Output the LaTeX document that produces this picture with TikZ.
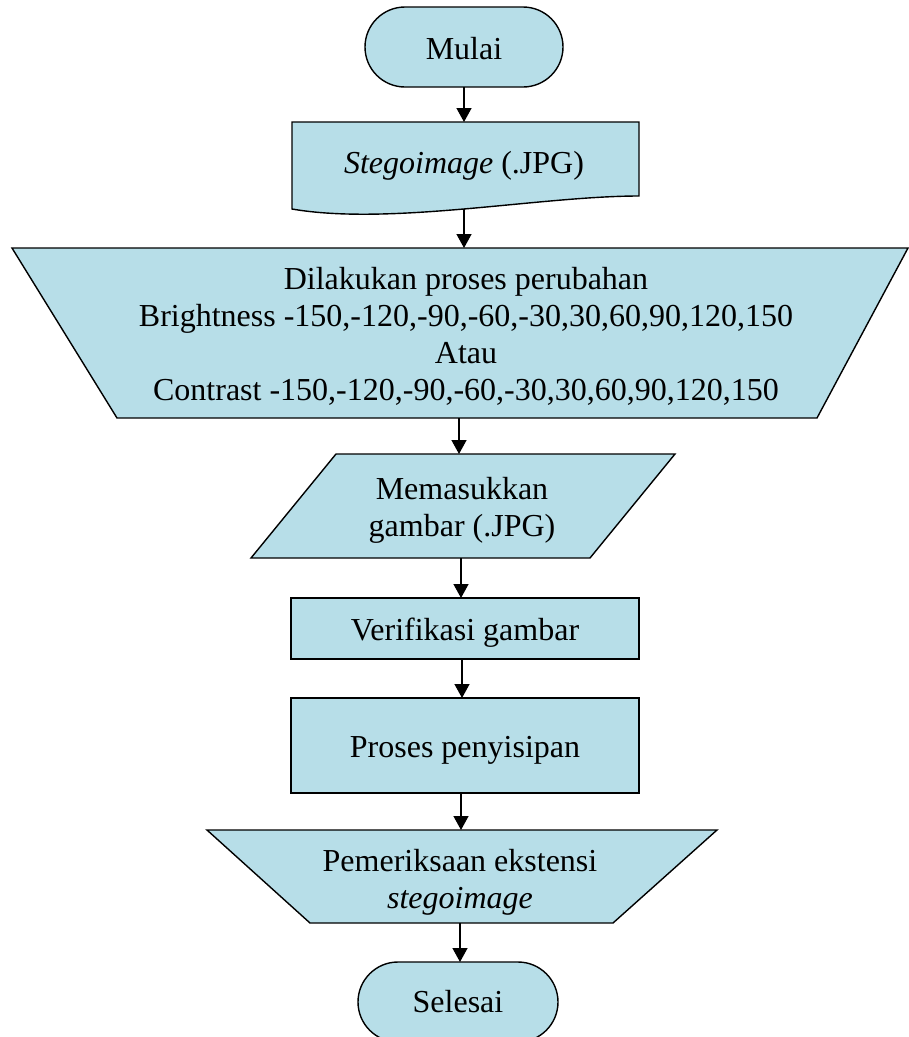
\documentclass[tikz,border=0pt]{standalone}
\usepackage{fontspec}
\setmainfont{Liberation Serif}
\usetikzlibrary{arrows.meta}
\definecolor{boxfill}{RGB}{183,222,232}
% centred stack of lines whose baseline is the first line's baseline
\newcommand{\stacklines}[1]{\begin{tabular}[t]{@{}c@{}}#1\end{tabular}}
\begin{document}
\begin{tikzpicture}[x=1pt,y=-1pt,
  shapebox/.style={draw=black,fill=boxfill,line width=1.4pt,line join=miter},
  txt/.style={font=\fontsize{32}{37}\selectfont,inner sep=0pt,anchor=base},
  arr/.style={line width=1.4pt,-{Triangle[width=15pt,length=14pt]}}]
\useasboundingbox (0,0) rectangle (909,1037);
\clip (0,0) rectangle (909,1037);

% start terminator
\draw[shapebox,rounded corners=40pt] (365,7) rectangle (563,87);
\node[txt] (mulai) at (464,59) {Mulai};
\coordinate (mulai-s) at (464,87);

% document input
\draw[shapebox] (292,122) -- (639,122) -- (639,196)
  .. controls (540,196) and (390,226) .. (292,209) -- cycle;
\node[txt] (doc) at (464,173) {\textit{Stegoimage} (.JPG)};
\coordinate (doc-n) at (464,122);
\coordinate (doc-s) at (464,209);

% manual operation
\draw[shapebox] (12,248) -- (908,248) -- (817,418) -- (117,418) -- cycle;
\node[txt] (manual) at (466,289) {\stacklines{Dilakukan proses perubahan\\
  Brightness -150,-120,-90,-60,-30,30,60,90,120,150\\
  Atau\\
  Contrast -150,-120,-90,-60,-30,30,60,90,120,150}};
\coordinate (man-n) at (464,248);
\coordinate (man-s) at (459,418);

% data input
\draw[shapebox] (336,454) -- (675,454) -- (590,558) -- (251,558) -- cycle;
\node[txt] (input) at (462,499) {\stacklines{Memasukkan\\gambar (.JPG)}};
\coordinate (in-n) at (459,454);
\coordinate (in-s) at (461,558);

% verification
\draw[shapebox] (291,598) rectangle (639,659);
\node[txt] (verif) at (465,640) {Verifikasi gambar};
\coordinate (ver-n) at (461,598);
\coordinate (ver-s) at (462,659);

% embedding
\draw[shapebox] (291,698) rectangle (639,793);
\node[txt] (proses) at (465,757) {Proses penyisipan};
\coordinate (pro-n) at (462,698);
\coordinate (pro-s) at (461,793);

% extension check
\draw[shapebox] (207,830) -- (717,830) -- (613,923) -- (310,923) -- cycle;
\node[txt] (cek) at (460,871) {\stacklines{Pemeriksaan ekstensi\\\textit{stegoimage}}};
\coordinate (cek-n) at (461,830);
\coordinate (cek-s) at (460,923);

% end terminator
\draw[shapebox,rounded corners=40pt] (358,962) rectangle (558,1042);
\node[txt] (selesai) at (458,1012) {Selesai};
\coordinate (sel-n) at (460,962);

% flow
\draw[arr] (mulai-s) -- (doc-n);
\draw[arr] (doc-s) -- (man-n);
\draw[arr] (man-s) -- (in-n);
\draw[arr] (in-s) -- (ver-n);
\draw[arr] (ver-s) -- (pro-n);
\draw[arr] (pro-s) -- (cek-n);
\draw[arr] (cek-s) -- (sel-n);
\end{tikzpicture}
\end{document}
